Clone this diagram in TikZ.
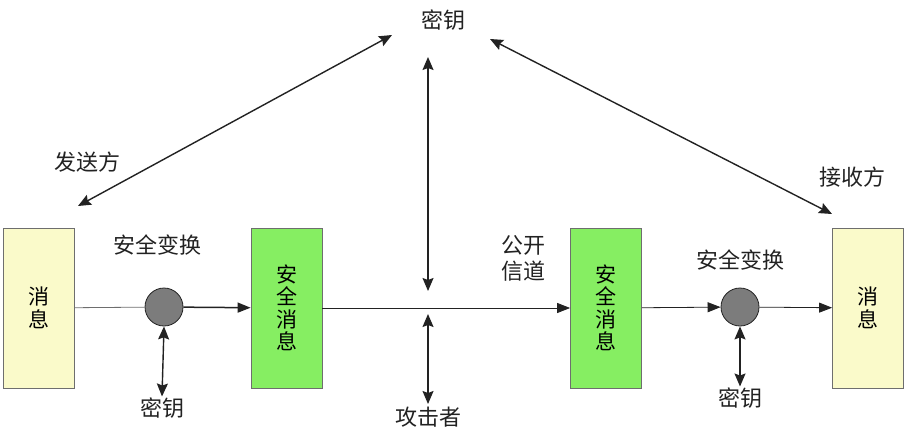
\documentclass[tikz,border=0pt]{standalone}
\usepackage{fontspec}
\setmainfont{Noto Sans CJK SC}
\usepackage{xcolor}
\usepackage{tikz}
\usetikzlibrary{arrows.meta}
\definecolor{msgbg}{HTML}{FAFACA}
\definecolor{secbg}{HTML}{86EE62}
\definecolor{frame}{HTML}{6E6E6E}
\definecolor{ink}{HTML}{222222}
\definecolor{knob}{HTML}{7C7C7C}
\tikzset{
  box/.style={draw=frame, line width=0.8pt, minimum width=71pt, minimum height=160pt, inner sep=0pt, align=center, font=\fontsize{21}{22.5}\selectfont},
  msgbox/.style={box, fill=msgbg},
  secbox/.style={box, fill=secbg},
  knobdot/.style={circle, draw=ink, line width=0.8pt, fill=knob, minimum size=38pt, inner sep=0pt},
  flow/.style={draw=ink, line width=0.8pt, -{Triangle[length=13pt,width=10pt]}},
  flowb/.style={flow, line width=1.5pt},
  thin/.style={draw=frame, line width=0.8pt},
  both/.style={draw=ink, line width=1.4pt, {Stealth[length=13pt,width=11pt,inset=2pt]}-{Stealth[length=13pt,width=11pt,inset=2pt]}},
  lab/.style={text=ink, font=\fontsize{22}{26}\selectfont, inner sep=1pt},
}
\begin{document}
\begin{tikzpicture}[x=1pt,y=-1pt]
  \useasboundingbox (0,0) rectangle (909,439);
  % boxes and transforms
  \node[msgbox] (msgL) at (38.5,308) {消\\息};
  \node[knobdot] (tfL) at (164,307) {};
  \node[secbox] (secL) at (286.5,308) {安\\全\\消\\息};
  \node[secbox] (secR) at (606,308) {安\\全\\消\\息};
  \node[knobdot] (tfR) at (740,307) {};
  \node[msgbox] (msgR) at (868,308) {消\\息};
  % labels
  \node[lab] (keyTop) at (443,20) {密钥};
  \node[lab] (send) at (87,162) {发送方};
  \node[lab] (recv) at (852,177) {接收方};
  \node[lab] (tfLlab) at (157,245) {安全变换};
  \node[lab] (tfRlab) at (740,260) {安全变换};
  \node[lab] (keyL) at (162,408) {密钥};
  \node[lab] (keyR) at (740,398) {密钥};
  \node[lab] (atk) at (428,417) {攻击者};
  \node[lab, align=left] (chan) at (523,258) {公开\\信道};
  % free ends
  \coordinate (sendEnd) at (78,206);
  \coordinate (keyTopL) at (392,35);
  \coordinate (keyTopR) at (490,39);
  \coordinate (recvEnd) at (832,214);
  \coordinate (eveUp) at (428,57);
  \coordinate (eveMid) at (428,291);
  \coordinate (eveLow) at (428,314);
  \coordinate (eveDown) at (428,404);
  % message flow
  \draw[thin] (msgL) -- (tfL);
  \draw[flowb] (tfL) -- (secL);
  \draw[flow] (secL) -- (secR);
  \draw[flow] (secR) -- (tfR);
  \draw[flow] (tfR) -- (msgR);
  % keys
  \draw[both] (tfL.south) -- (keyL.north);
  \draw[both] (tfR.south) -- (keyR.north);
  \draw[both] (sendEnd) -- (keyTopL);
  \draw[both] (keyTopR) -- (recvEnd);
  \draw[both] (eveUp) -- (eveMid);
  \draw[both] (eveLow) -- (eveDown);
\end{tikzpicture}
\end{document}
